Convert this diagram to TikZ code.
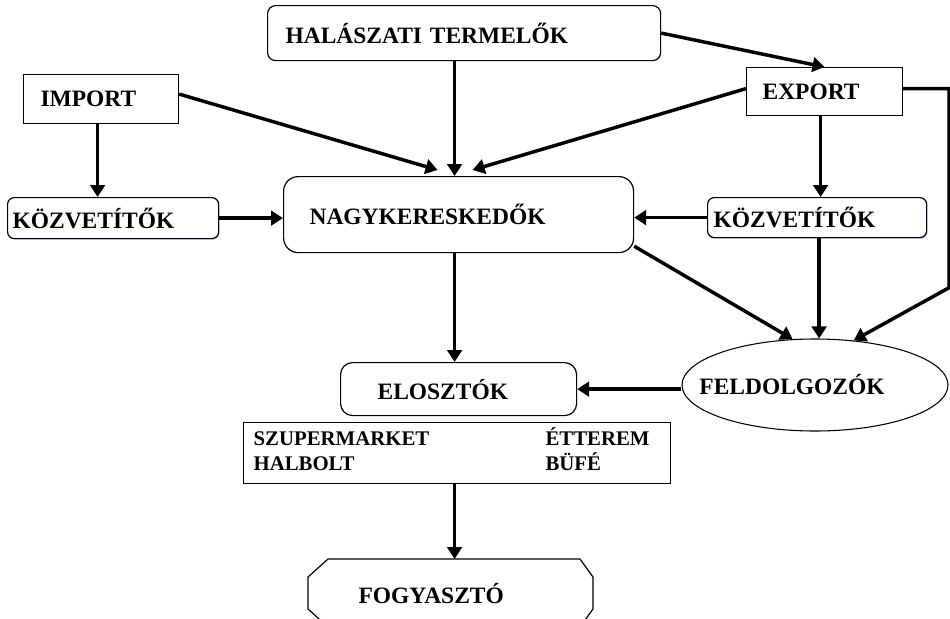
\documentclass[tikz,border=0pt]{standalone}
\usepackage{fontspec}
\setmainfont{Liberation Serif}
\usetikzlibrary{arrows.meta,shapes.geometric,calc,shadows}
\begin{document}
\begin{tikzpicture}[x=0.75pt,y=-0.75pt,
  box/.style={draw=black, fill=white, line width=0.9pt, anchor=north west, align=left,
    inner ysep=0pt, font=\fontsize{17.6}{21}\selectfont\bfseries},
  bshadow/.style={drop shadow={shadow xshift=0.8pt, shadow yshift=-0.8pt, fill=blue!25, opacity=1}},
  arr/.style={line width=2.6pt, -{Triangle[length=9pt,width=11pt]}}]
\path[use as bounding box, clip] (0,0) rectangle (950,618);

% nodes
\node[box, rounded corners=6pt, minimum width=294.75pt, minimum height=41.25pt,
  inner xsep=13.5pt, text width=267.75pt] (ht) at (267,5) {HALÁSZATI TERMELŐK};
\node[box, minimum width=116.25pt, minimum height=36.75pt,
  inner xsep=12.75pt, text width=90.75pt] (imp) at (23,74) {IMPORT};
\node[box, rounded corners=5pt, bshadow, minimum width=158.25pt, minimum height=30.75pt,
  inner xsep=3.75pt, text width=150.75pt] (kl) at (7,197) {KÖZVETÍTŐK};
\node[box, rounded corners=11pt, minimum width=262.5pt, minimum height=57pt,
  inner xsep=19.5pt, text width=223.5pt] (ng) at (283,176) {NAGYKERESKEDŐK};
\node[box, minimum width=117pt, minimum height=36pt,
  inner xsep=12pt, text width=93pt] (ex) at (746,67) {EXPORT};
\node[box, rounded corners=5pt, bshadow, minimum width=164.25pt, minimum height=30pt,
  inner xsep=4.5pt, text width=155.25pt] (kr) at (707,197) {KÖZVETÍTŐK};
\node[box, rounded corners=9pt, minimum width=177pt, minimum height=39.75pt,
  inner xsep=27.75pt, text width=121.5pt] (el) at (340,362) {ELOSZTÓK};
\node[box, minimum width=320.25pt, minimum height=45.75pt, inner xsep=7.5pt,
  text width=305.25pt, font=\fontsize{15.6}{18}\selectfont\bfseries] (sh) at (243,422)
  {\begin{tabular}{@{}p{219pt}@{}l@{}}SZUPERMARKET & ÉTTEREM\\ HALBOLT & BÜFÉ\end{tabular}};
\node[ellipse, draw=black, fill=white, line width=0.8pt, inner sep=0pt,
  minimum width=199.5pt, minimum height=69pt,
  label={[font=\fontsize{17.6}{21}\selectfont\bfseries, xshift=-17.25pt]center:FELDOLGOZÓK}]
  (fd) at (815,385) {};
\node[box, draw=none, fill=none, minimum width=213.75pt, minimum height=51pt,
  inner xsep=37.5pt, text width=138.75pt] (fo) at (308,559) {FOGYASZTÓ};
\draw[line width=0.9pt] ($(fo.north west)+(20,0)$) -- ($(fo.north west)+(272,0)$)
  -- ($(fo.north west)+(285,18)$) -- ($(fo.north west)+(285,50)$)
  -- ($(fo.north west)+(272,68)$) -- ($(fo.north west)+(20,68)$)
  -- ($(fo.north west)+(0,50)$) -- ($(fo.north west)+(0,18)$) -- cycle;

% connectors
\draw[arr] ($(ht.south)+(-9.5,0)$) -- ($(ng.north)+(-4,0)$);
\draw[arr] (ht.east) -- (ex.north);
\draw[arr] ($(imp.east)+(0,-5)$) -- ($(ng.north)+(-21,-6)$);
\draw[arr] ($(ex.west)+(0,-3)$) -- ($(ng.north)+(14,-6)$);
\draw[arr] ($(imp.south)+(-3.5,0)$) -- ($(imp.south |- kl.north)+(-3.5,0)$);
\draw[arr] (kl.east) -- (kl.east -| ng.west);
\draw[arr] (kr.west) -- (kr.west -| ng.east);
\draw[arr] ($(ex.south)+(-4,0)$) -- ($(ex.south |- kr.north)+(-4,0)$);
\draw[arr] ($(kr.south)+(2,0)$) -- ($(kr.south |- fd.north)+(2,0)$);
\draw[arr] ($(ng.south east)+(0,-7)$) -- (fd.116);
\draw[arr] ($(ex.east)+(0,-3)$) -- ++(46,0) -- ++(0,199) -- (fd.49);
\draw[arr] ($(ng.south)+(-4,0)$) -- ($(ng.south |- el.north)+(-4,0)$);
\draw[arr] (fd.west |- el.east) -- (el.east);
\draw[arr] ($(sh.south)+(-2.5,0)$) -- ($(sh.south |- fo.north)+(-2.5,0)$);
\end{tikzpicture}
\end{document}
